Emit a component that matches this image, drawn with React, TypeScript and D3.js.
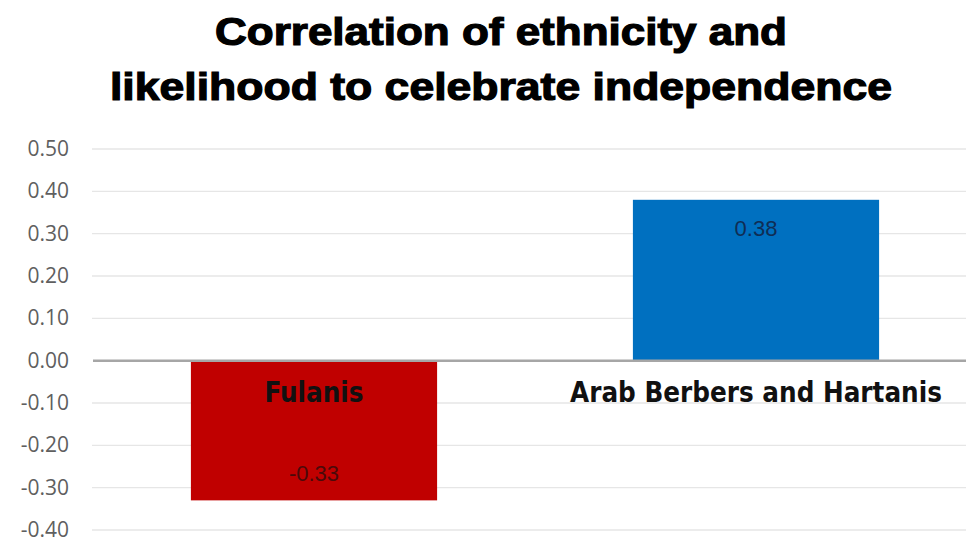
import React from "react";
import * as d3 from "d3";

const categories = ["Fulanis", "Arab Berbers and Hartanis"];
const values = [-0.33, 0.38];
const barColors = ["#C00000", "#0070C0"];
const labelColors = ["#4a0a0a", "#0f2d55"];
const tickValues = [-0.4, -0.3, -0.2, -0.1, 0, 0.1, 0.2, 0.3, 0.4, 0.5];
const titleLines = ["Correlation of ethnicity and", "likelihood to celebrate independence"];

const fmt = (v: number) => d3.format(".2f")(v).replace("\u2212", "-");

export default function App() {
  const W = 966, H = 538;
  const x = d3.scaleBand<string>().domain(categories).range([93, 977]).paddingInner(0.443).paddingOuter(0.2215);
  const y = d3.scaleLinear().domain([-0.4, 0.5]).range([530, 149]);
  const titleSpans = [[215, 787], [110, 892]];
  const titleBase = [45, 100];
  return (
    <div style={{ position: "fixed", left: 0, top: 0 }}>
      <svg width={W} height={H} style={{ display: "block", background: "#fff" }}>
        {titleLines.map((t, i) => (
          <text key={t} x={titleSpans[i][0]} y={titleBase[i]} textLength={titleSpans[i][1] - titleSpans[i][0]} lengthAdjust="spacingAndGlyphs" fontFamily="Liberation Sans, Arial" fontWeight={700} fontSize={38} fill="#000" stroke="#000" strokeWidth={1.2}>{t}</text>
        ))}
        {tickValues.map((v) => (
          <g key={v}>
            {v !== 0 && <line x1={92} x2={W} y1={y(v)} y2={y(v)} stroke="#e6e6e6" strokeWidth={1.3} />}
            <text x={69} y={y(v) + 7} textAnchor="end" fontFamily="Open Sans" fontSize={21} fill="#5f5f5f">{fmt(v)}</text>
          </g>
        ))}
        {categories.map((c, i) => {
          const v = values[i];
          const y0 = y(Math.max(0, v)), y1 = y(Math.min(0, v));
          return (
            <rect key={c} x={x(c)} width={x.bandwidth()} y={y0} height={y1 - y0} fill={barColors[i]} />
          );
        })}
        <line x1={93} x2={W} y1={y(0)} y2={y(0)} stroke="#a6a6a6" strokeWidth={2.5} />
        {categories.map((c, i) => {
          const cx = (x(c) as number) + x.bandwidth() / 2;
          const v = values[i];
          const ly = v >= 0 ? y(v) + 36 : y(v) - 19;
          return (
            <g key={c}>
              <text x={cx} y={ly} textAnchor="middle" fontFamily="Liberation Sans, Arial" fontSize={22} fill={labelColors[i]}>{fmt(v)}</text>
              <text x={cx} y={y(0) + 41} textAnchor="middle" fontFamily="DejaVu Sans Condensed" fontWeight={700} fontSize={27.5} fill="#111">{c}</text>
            </g>
          );
        })}
      </svg>
    </div>
  );
}
